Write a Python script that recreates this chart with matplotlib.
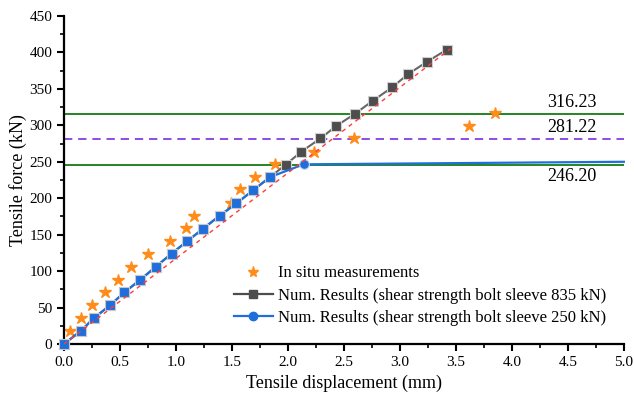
import matplotlib
matplotlib.use("Agg")
import matplotlib.pyplot as plt
from matplotlib.lines import Line2D
from matplotlib.ticker import MultipleLocator

plt.rcParams["font.family"] = ["Liberation Serif", "DejaVu Serif"]
plt.rcParams["mathtext.fontset"] = "stix"

# numerical results, bolt sleeve shear strength 835 kN
disp_835 = [0.0, 0.15, 0.27, 0.41, 0.54, 0.68, 0.82, 0.96, 1.10, 1.24, 1.39, 1.54,
            1.69, 1.84, 1.98, 2.12, 2.29, 2.43, 2.60, 2.76, 2.93, 3.07, 3.24, 3.42]
force_835 = [0, 18, 36, 53, 71, 88, 106, 124, 141, 158, 176, 193,
             211, 229, 246, 264, 282, 299, 316, 334, 352, 370, 387, 404]

# numerical results, bolt sleeve shear strength 250 kN
disp_250 = [0.0, 0.15, 0.27, 0.41, 0.54, 0.68, 0.82, 0.96, 1.10, 1.24, 1.39, 1.54,
            1.69, 1.84, 2.14, 5.0]
force_250 = [0, 18, 36, 53, 71, 88, 106, 124, 141, 158, 176, 193,
             211, 229, 246.5, 250]

# in situ measurements
situ_disp = [0.05, 0.15, 0.25, 0.37, 0.48, 0.60, 0.75, 0.95, 1.09, 1.16, 1.49, 1.57,
             1.71, 1.88, 2.23, 2.59, 3.62, 3.85]
situ_force = [18, 36, 53, 71, 88, 106, 124, 141, 159, 176, 194, 212,
              229, 247, 264, 282, 299.5, 316.5]

# linear reference line
ref_disp = [0.0, 3.45]
ref_force = [0, 405]

# horizontal levels
levels = [316.23, 281.22, 246.20]
level_labels = ["316.23", "281.22", "246.20"]

GRAY = "#4d4d4d"
BLUE = "#1e6fdc"
ORANGE = "#ff8c1a"
GREEN = "#007000"
PURPLE = "#7a2ee0"

fig = plt.figure(figsize=(6.34, 4.0), dpi=100)
ax = fig.add_axes([0.101, 0.14, 0.883, 0.82])

ax.axhline(levels[0], color=GREEN, lw=1.2, zorder=1)
ax.axhline(levels[1], color=PURPLE, lw=1.2, ls=(0, (5, 3.5)), zorder=1)
ax.axhline(levels[2], color=GREEN, lw=1.2, zorder=1)

ax.plot(situ_disp, situ_force, ls="none", marker="*", ms=9, color=ORANGE,
        mec=ORANGE, zorder=2, clip_on=False)

ax.plot(disp_835, force_835, color="#666666", lw=1.5, marker="s", ms=7,
        mfc=GRAY, mec="#d0d0d0", mew=0.8, zorder=3, clip_on=False)

n_shared = len(disp_250) - 2
ax.plot(disp_250, force_250, color=BLUE, lw=1.6, zorder=4, clip_on=False)
ax.plot(disp_250[:n_shared], force_250[:n_shared], ls="none", marker="s", ms=7,
        mfc=BLUE, mec="#c8c8c8", mew=0.8, zorder=5, clip_on=False)
ax.plot(disp_250[n_shared:n_shared + 1], force_250[n_shared:n_shared + 1], ls="none",
        marker="o", ms=7, mfc=BLUE, mec="#c8d8f0", mew=0.8, zorder=5)

ax.plot(ref_disp, ref_force, color="#ff3b3b", lw=1.0, ls=(0, (3, 3)), zorder=6)

for y, lab, dy, va in zip(levels, level_labels, [4, 4, -5], ["bottom", "bottom", "top"]):
    ax.text(4.54, y + dy, lab, ha="center", va=va, fontsize=13)

ax.set_xlim(0, 5.0)
ax.set_ylim(0, 450)
ax.xaxis.set_major_locator(MultipleLocator(0.5))
ax.xaxis.set_minor_locator(MultipleLocator(0.25))
ax.yaxis.set_major_locator(MultipleLocator(50))
ax.yaxis.set_minor_locator(MultipleLocator(25))
ax.xaxis.set_major_formatter(matplotlib.ticker.FormatStrFormatter("%.1f"))

for side in ["top", "right"]:
    ax.spines[side].set_visible(False)
for side in ["left", "bottom"]:
    ax.spines[side].set_linewidth(1.6)
ax.tick_params(which="major", direction="out", length=5, width=1.5, labelsize=11)
ax.tick_params(which="minor", direction="out", length=3, width=1.2)

ax.set_xlabel("Tensile displacement (mm)", fontsize=13, labelpad=4)
ax.set_ylabel("Tensile force (kN)", fontsize=13, labelpad=2)

handles = [
    Line2D([], [], ls="none", marker="*", ms=8, color=ORANGE),
    Line2D([], [], color=GRAY, lw=1.6, marker="s", ms=6, mfc=GRAY, mec=GRAY),
    Line2D([], [], color=BLUE, lw=1.6, marker="o", ms=6, mfc=BLUE, mec=BLUE),
]
labels = [
    "In situ measurements",
    "Num. Results (shear strength bolt sleeve 835 kN)",
    "Num. Results (shear strength bolt sleeve 250 kN)",
]
ax.legend(handles, labels, loc="upper left", bbox_to_anchor=(0.292, 0.26),
          frameon=False, fontsize=12, handlelength=2.3, handletextpad=0.3,
          labelspacing=0.38, borderaxespad=0)

fig.savefig("out.png", dpi=100)
